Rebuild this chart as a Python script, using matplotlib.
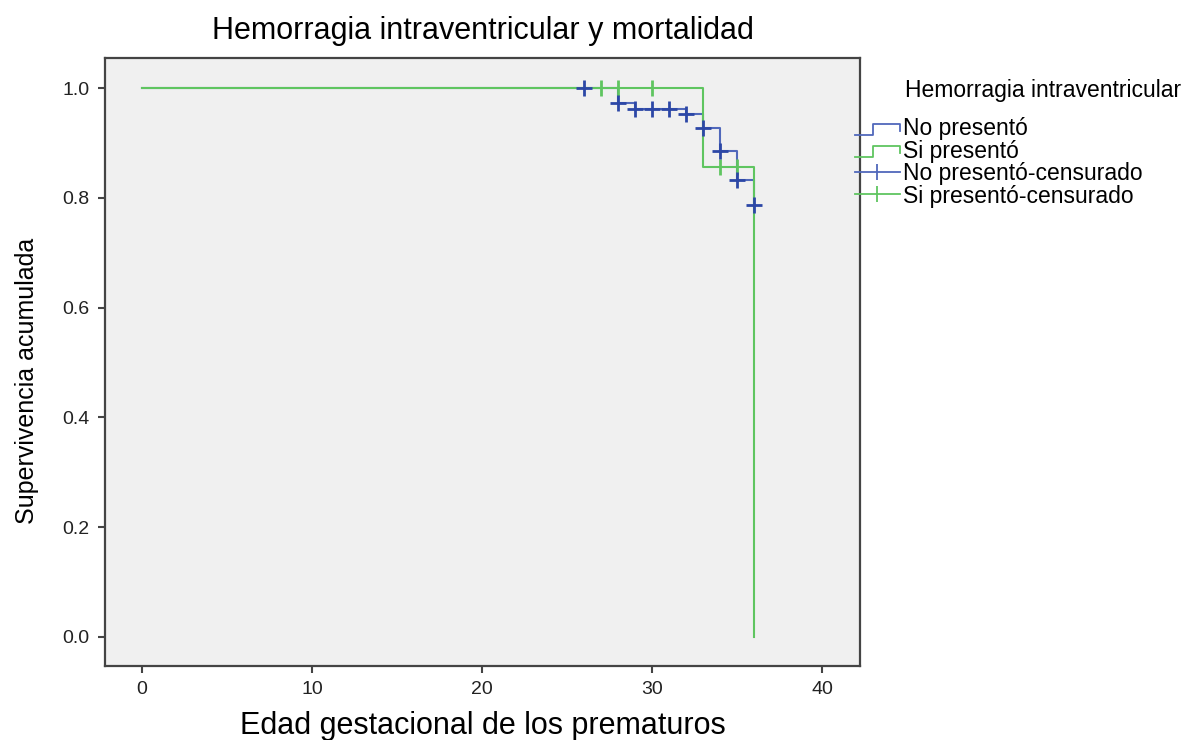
import matplotlib
matplotlib.use("Agg")
import matplotlib.pyplot as plt
from matplotlib.lines import Line2D
from matplotlib.legend_handler import HandlerBase

plt.rcParams["font.family"] = ["Liberation Sans", "DejaVu Sans"]

# Kaplan-Meier: Edad gestacional (semanas) vs supervivencia acumulada
no_t    = [0, 28, 29, 32, 33, 34, 35, 36]
no_s    = [1.0, 0.973, 0.962, 0.953, 0.927, 0.886, 0.833, 0.787]
si_t    = [0, 33, 36]
si_s    = [1.0, 0.857, 0.0]

# censurados
no_cens_t = [26, 28, 29, 30, 31, 32, 33, 34, 35, 36]
no_cens_s = [1.0, 0.973, 0.962, 0.962, 0.962, 0.953, 0.927, 0.886, 0.833, 0.787]
si_cens_t = [27, 28, 30, 34, 35]
si_cens_s = [1.0, 1.0, 1.0, 0.857, 0.857]

legend_title = "Hemorragia intraventricular"
legend_labels = ["No presentó", "Si presentó",
                 "No presentó-censurado", "Si presentó-censurado"]

BLUE   = "#5068bb"
BLUE_C = "#2c47a6"
GREEN  = "#5fc560"
FRAME  = "#444444"


class StepHandler(HandlerBase):
    # icono escalonado como en SPSS
    def create_artists(self, legend, orig_handle, xdescent, ydescent,
                       width, height, fontsize, trans):
        x0, y0 = -xdescent, -ydescent
        xs = [x0, x0 + 0.4 * width, x0 + 0.4 * width, x0 + width, x0 + width]
        ys = [y0 + 0.05 * height, y0 + 0.05 * height, y0 + 0.7 * height,
              y0 + 0.7 * height, y0 + 0.3 * height]
        ln = Line2D(xs, ys, color=orig_handle.get_color(), lw=1.3)
        ln.set_transform(trans)
        return [ln]


fig = plt.figure(figsize=(11.92, 7.4), dpi=100)
ax = fig.add_axes([0.0881, 0.1, 0.6334, 0.8216])
ax.set_facecolor("#f0f0f0")

ax.step(no_t, no_s, where="post", color=BLUE, lw=1.5, zorder=2)
ax.step(si_t, si_s, where="post", color=GREEN, lw=1.5, zorder=3)
ax.plot(si_cens_t, si_cens_s, ls="none", marker="|", ms=11, mew=2,
        color=GREEN, zorder=4)
ax.plot(no_cens_t, no_cens_s, ls="none", marker="+", ms=11, mew=2,
        color=BLUE_C, zorder=5)

ax.set_xlim(-2.18, 42.24)
ax.set_ylim(-0.053, 1.055)
ax.set_xticks([0, 10, 20, 30, 40])
ax.set_yticks([0.0, 0.2, 0.4, 0.6, 0.8, 1.0])
ax.set_yticklabels([f"{v:.1f}" for v in [0.0, 0.2, 0.4, 0.6, 0.8, 1.0]])

for s in ax.spines.values():
    s.set_color(FRAME)
    s.set_linewidth(1.6)
ax.tick_params(direction="out", length=5, width=1.5, color=FRAME,
               labelsize=14, labelcolor="#222222", pad=6)

ax.set_title("Hemorragia intraventricular y mortalidad", fontsize=22, pad=14)
ax.set_xlabel("Edad gestacional de los prematuros", fontsize=22, labelpad=9)
ax.set_ylabel("Supervivencia acumulada", fontsize=18)
ax.yaxis.set_label_coords(-0.087, 0.469)

handles = [
    Line2D([0], [0], color=BLUE),
    Line2D([0], [0], color=GREEN),
    Line2D([0], [0], color=BLUE, lw=1.3, marker="|", ms=12, mew=1.3),
    Line2D([0], [0], color=GREEN, lw=1.3, marker="|", ms=12, mew=1.3),
]
fig.text(905 / 1192, 1 - 90 / 740, legend_title, fontsize=16.5, va="center")
leg = ax.legend(handles, legend_labels,
                loc="upper left", bbox_to_anchor=(855 / 1192, 1 - 117 / 740),
                bbox_transform=fig.transFigure, frameon=False, fontsize=16.5,
                handlelength=1.95, handleheight=0.8, handletextpad=0.15,
                labelspacing=-0.02, borderpad=0, borderaxespad=0,
                handler_map={handles[0]: StepHandler(), handles[1]: StepHandler()})

fig.savefig("out.png", dpi=100)
